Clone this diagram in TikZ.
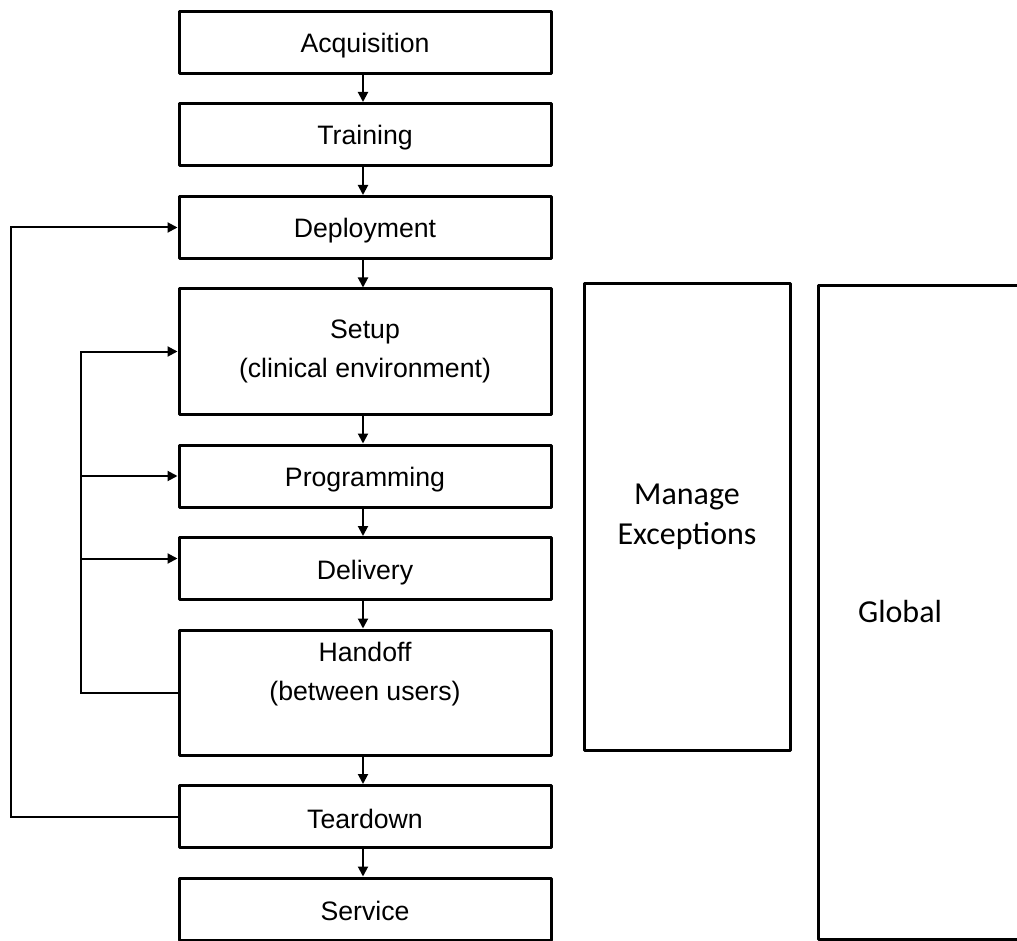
\documentclass[tikz,border=0pt]{standalone}
\usepackage{fontspec}
\setmainfont{Liberation Sans}
\newfontfamily\sidefont{Carlito}
\usetikzlibrary{arrows.meta,calc}

% shift the printed text without changing the space it claims
\newcommand{\liftby}[2]{\raisebox{#1}[\height][\depth]{\shortstack{#2}}}

\tikzset{
  stage/.style={draw, line width=2.25pt, line join=round, fill=white,
    minimum width=279pt, inner sep=0pt, align=center,
    font=\fontsize{20}{29.25}\selectfont},
  small/.style={stage, minimum height=46.5pt},
  tall/.style={stage, minimum height=93.75pt},
  panel/.style={draw, line width=2.25pt, line join=round},
  conn/.style={line width=1.5pt, -{Triangle[length=7.5pt,width=7.5pt]}},
  down/.style={conn, transform canvas={xshift=-1.5pt}},
  sidetext/.style={align=center, font=\sidefont\fontsize{24}{30}\selectfont}
}

\begin{document}
\begin{tikzpicture}[x=0.75pt,y=-0.75pt]
  \useasboundingbox (0,0) rectangle (1017,941);
  \begin{scope}
  \clip (0,0) rectangle (1017,941);

  % main process stages
  \node[small] (acq)   at (365,42.5)  {\liftby{-2.5pt}{Acquisition}};
  \node[small] (trn)   at (365,134.5) {\liftby{-2.5pt}{Training}};
  \node[small] (dep)   at (365,227.5) {\liftby{-2.5pt}{Deployment}};
  \node[tall]  (setup) at (365,351.5) {Setup\\(clinical environment)};
  \node[small] (prog)  at (365,476)   {\liftby{-2.5pt}{Programming}};
  \node[small] (deliv) at (365,568.5) {\liftby{-3pt}{Delivery}};
  \node[tall]  (hand)  at (365,692.5) {\liftby{13.75pt}{Handoff\\[12pt](between users)}};
  \node[small] (tear)  at (365,816.5) {\liftby{-1.5pt}{Teardown}};
  \node[small] (serv)  at (365,909)   {\liftby{-1.5pt}{Service}};

  % side panels
  \node[panel, minimum width=154.5pt, minimum height=349.5pt, inner sep=0pt,
        sidetext] (exc) at (687,517) {Manage\\Exceptions};
  \draw[panel] (1040,286) -- (818,286) -- (818,939) -- (1040,939);
  \node[sidetext] (glob) at (900,612) {Global};

  % downward flow
  \draw[down] (acq.south)   -- (trn.north);
  \draw[down] (trn.south)   -- (dep.north);
  \draw[down] (dep.south)   -- (setup.north);
  \draw[down] (setup.south) -- (prog.north);
  \draw[down] (prog.south)  -- (deliv.north);
  \draw[down] (deliv.south) -- (hand.north);
  \draw[down] (hand.south)  -- (tear.north);
  \draw[down] (tear.south)  -- (serv.north);

  % outer loop: teardown back to deployment
  \coordinate (outer) at (11,0);
  \draw[conn] (tear.west) -- (tear.west -| outer) |- (dep.west);

  % inner loop: handoff back to setup, programming and delivery
  \coordinate (inner) at (81,0);
  \coordinate (delin) at ($(deliv.west)+(0,-10)$);
  \draw[conn] (hand.west) -- (hand.west -| inner) |- (setup.west);
  \draw[conn] (inner |- prog.west) -- (prog.west);
  \draw[conn] (inner |- delin) -- (delin);
  \end{scope}
\end{tikzpicture}
\end{document}
